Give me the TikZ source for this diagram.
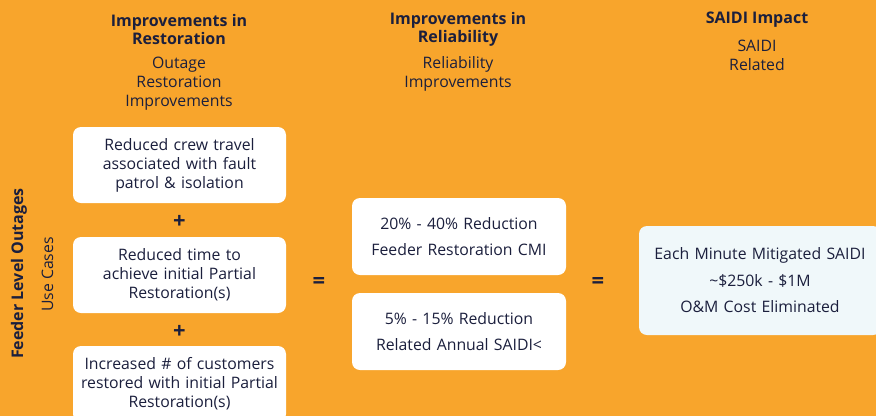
\documentclass[tikz,border=0pt]{standalone}
\usepackage{fontspec}
\setmainfont{Open Sans}
\definecolor{bgorange}{HTML}{F8A52C}
\definecolor{navy}{HTML}{1B1F3D}
\definecolor{lightbox}{HTML}{F0F8FA}
\begin{document}
\begin{tikzpicture}[x=1pt,y=-1pt,
  card/.style={rounded corners=8pt, fill=white, draw=none, minimum width=213pt, minimum height=76pt, text width=205pt, align=center, inner sep=0pt, text=navy, font=\fontsize{15.8}{19}\selectfont},
  tallcard/.style={card, font=\fontsize{15.8}{26.5}\selectfont},
  hdr/.style={align=center, text=navy, inner sep=0pt, font=\fontsize{16}{18}\selectfont\bfseries},
  sub/.style={align=center, text=navy, inner sep=0pt, font=\fontsize{15.8}{19}\selectfont},
  op/.style={text=navy, inner sep=0pt, font=\fontsize{22}{22}\selectfont\bfseries}]
\fill[bgorange] (0,0) rectangle (876,416);
\useasboundingbox (0,0) rectangle (876,416);
\clip (0,0) rectangle (876,416);
% headers
\node[hdr] (h1) at (179,29) {Improvements in\\Restoration};
\node[sub] (s1) at (179,84) {Outage\\Restoration\\Improvements};
\node[hdr] (h2) at (458,29) {Improvements in\\Reliability};
\node[sub] (s2) at (458,74) {Reliability\\Improvements};
\node[hdr] (h3) at (757,20) {SAIDI Impact};
\node[sub] (s3) at (757,55) {SAIDI\\Related};
% side labels
\node[hdr, rotate=90] (side1) at (19,273.5) {Feeder Level Outages};
\node[sub, rotate=90] (side2) at (47.5,274.5) {Use Cases};
% left column
\node[card] (b1) at (179.5,165) {Reduced crew travel\\associated with fault\\patrol \& isolation};
\node[op] (p1) at (179.5,222) {+};
\node[card] (b2) at (179.5,275) {Reduced time to\\achieve initial Partial\\Restoration(s)};
\node[op] (p2) at (179.5,332) {+};
\node[card] (b3) at (179.5,384) {Increased \# of customers\\restored with initial Partial\\Restoration(s)};
% middle
\node[op] (e1) at (319,283) {=};
\node[tallcard, minimum width=214pt, minimum height=77pt] (b4) at (459,236.5) {20\% - 40\% Reduction\\Feeder Restoration CMI};
\node[tallcard, minimum width=214pt, minimum height=77pt] (b5) at (459,331.5) {5\% - 15\% Reduction\\Related Annual SAIDI<};
\node[op] (e2) at (598,283) {=};
% right
\node[tallcard, fill=lightbox, minimum width=242pt, minimum height=109pt, text width=235pt] (b6) at (760,280.5) {Each Minute Mitigated SAIDI\\\textasciitilde\$250k - \$1M\\O\&M Cost Eliminated};
\end{tikzpicture}
\end{document}
